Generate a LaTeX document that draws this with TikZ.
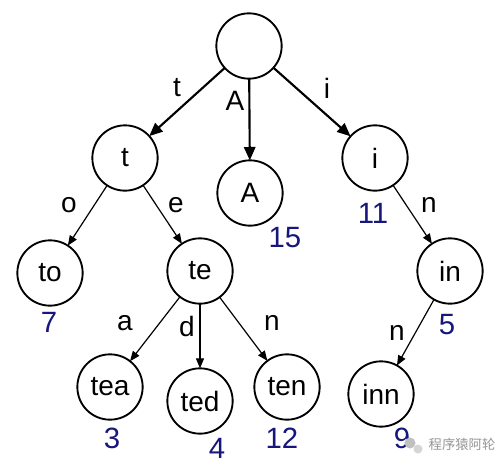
\documentclass[tikz,border=0pt]{standalone}
\usepackage{fontspec}
\setmainfont{Liberation Sans}
\newfontfamily\cjk{Noto Sans CJK SC}
\usetikzlibrary{arrows.meta}
\definecolor{numblue}{RGB}{22,22,125}
\definecolor{wmgray}{RGB}{150,150,150}
\begin{document}
\begin{tikzpicture}[x=0.75pt,y=-0.75pt,
  tnode/.style={circle,draw,line width=1.4pt,minimum size=49pt,inner sep=0pt,outer sep=0pt,font=\fontsize{21}{24}\selectfont},
  bigarrow/.style={-{Triangle[length=10pt,width=8.5pt]},line width=1.6pt},
  smallarrow/.style={-{Triangle[length=7.5pt,width=6pt]},line width=0.9pt},
  elabel/.style={font=\fontsize{21}{24}\selectfont,inner sep=0pt},
  count/.style={font=\fontsize{22}{24}\selectfont,text=numblue,inner sep=0pt}]
\useasboundingbox (0,0) rectangle (500,469);
\fill[white] (0,0) rectangle (500,469);
% nodes
\node[tnode] (root) at (249,46) {};
\node[tnode] (t) at (125,158) {t};
\node[tnode] (A) at (250,193) {A};
\node[tnode] (i) at (375,158) {i};
\node[tnode] (to) at (50,273) {to};
\node[tnode] (te) at (200,271) {te};
\node[tnode] (in) at (450,271) {in};
\node[tnode] (tea) at (110,387) {tea};
\node[tnode] (ted) at (200,401) {ted};
\node[tnode] (ten) at (287,387) {ten};
\node[tnode] (inn) at (381,394) {inn};
% edges
\draw[bigarrow] (root) -- (t);
\draw[bigarrow] (root) -- (A);
\draw[bigarrow] (root) -- (i);
\draw[smallarrow] (t) -- (to);
\draw[smallarrow] (t) -- (te);
\draw[smallarrow] (i) -- (in);
\draw[smallarrow] (te) -- (tea);
\draw[smallarrow] (te) -- (ted);
\draw[smallarrow] (te) -- (ten);
\draw[smallarrow] (in) -- (inn);
% edge labels
\node[elabel] (lt) at (177,88) {t};
\node[elabel] (lA) at (235,101) {A};
\node[elabel] (li) at (327,88) {i};
\node[elabel] (lo) at (69,205) {o};
\node[elabel] (le) at (176,205) {e};
\node[elabel] (ln1) at (429,205) {n};
\node[elabel] (la) at (125,323) {a};
\node[elabel] (ld) at (187,326) {d};
\node[elabel] (ln2) at (272,323) {n};
\node[elabel] (ln3) at (397,333) {n};
% counts
\node[count] (c15) at (285,238) {15};
\node[count] (c11) at (373,213) {11};
\node[count] (c7) at (49,322) {7};
\node[count] (c5) at (447,325) {5};
\node[count] (c3) at (112,438) {3};
\node[count] (c4) at (217,448) {4};
\node[count] (c12) at (282,438) {12};
\node[count] (c9) at (402,438) {9};
% watermark
\fill[wmgray!60] (410,443) circle (5.5);
\fill[wmgray!40] (418,449) circle (4.5);
\node[text=wmgray,font=\cjk\fontsize{10}{12}\selectfont,inner sep=0pt] (wm) at (462,444) {程序猿阿轮};
\end{tikzpicture}
\end{document}
